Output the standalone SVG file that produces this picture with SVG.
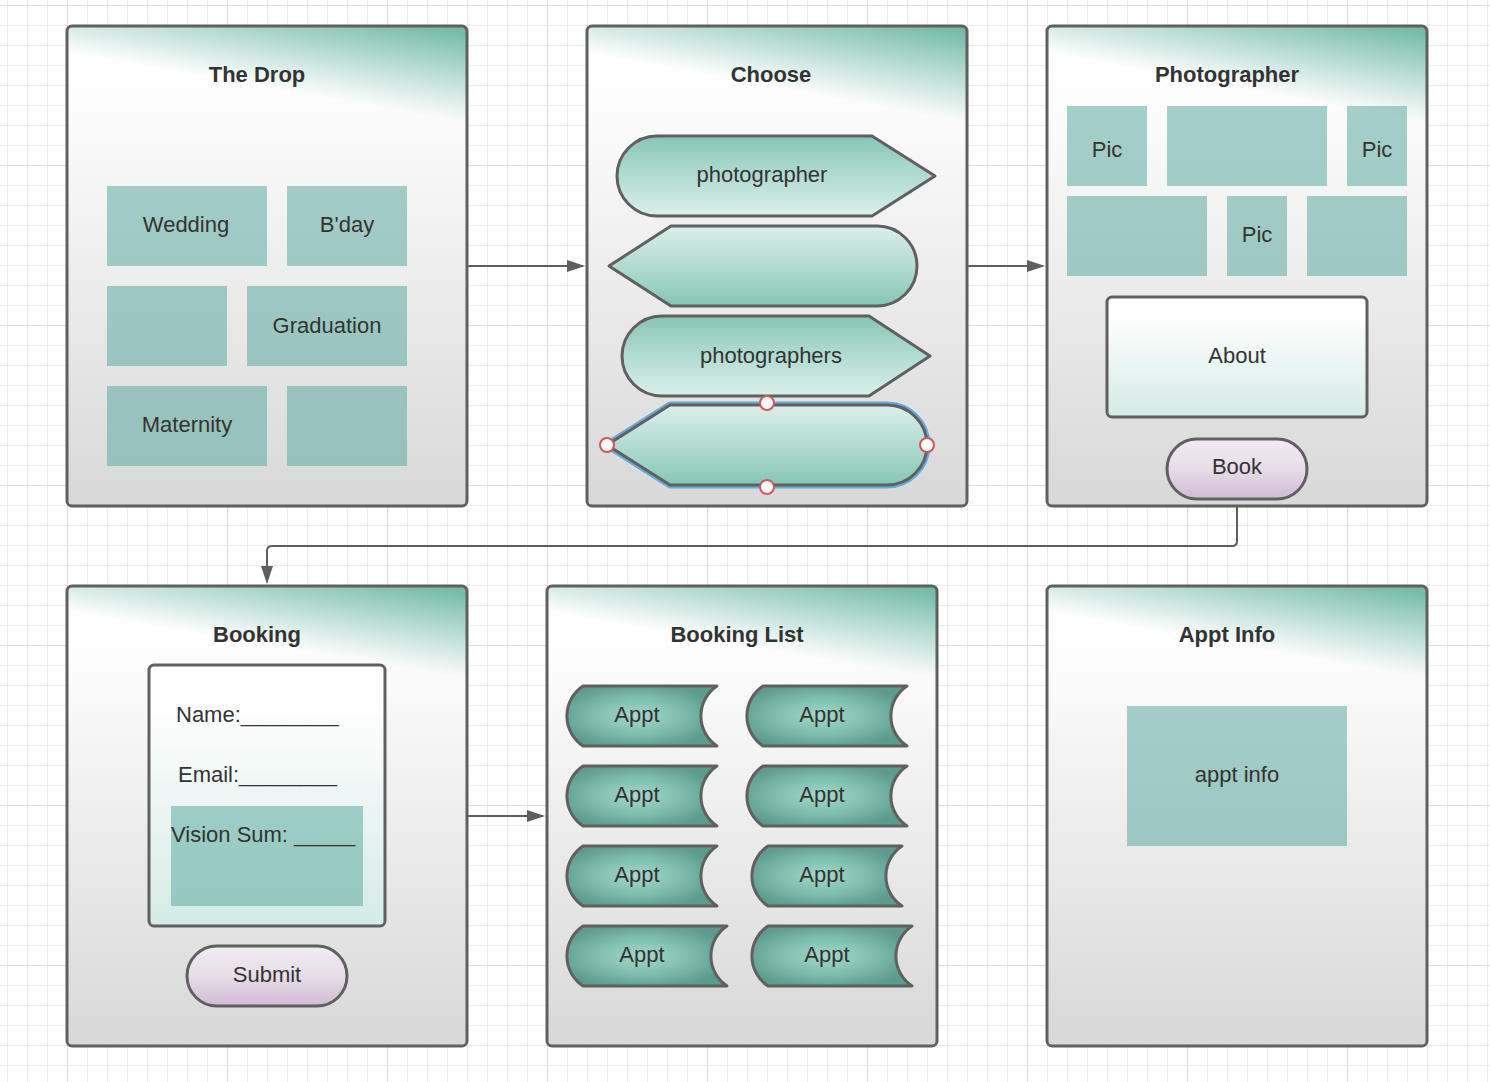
<svg xmlns="http://www.w3.org/2000/svg" width="1490" height="1082" viewBox="0 0 1490 1082">
<defs>
<pattern id="grid" x="67" y="5" width="160" height="160" patternUnits="userSpaceOnUse">
<path d="M20.5 0V160M40.5 0V160M60.5 0V160M80.5 0V160M100.5 0V160M120.5 0V160M140.5 0V160M0 20.5H160M0 40.5H160M0 60.5H160M0 80.5H160M0 100.5H160M0 120.5H160M0 140.5H160" stroke="#ececec" stroke-width="1" fill="none"/>
<path d="M0.5 0V160M0 0.5H160" stroke="#dedede" stroke-width="1" fill="none"/>
</pattern>
<linearGradient id="gBase" x1="0" y1="0" x2="0" y2="1"><stop offset="0" stop-color="#ffffff"/><stop offset="0.1" stop-color="#ffffff"/><stop offset="1" stop-color="#d8d8d8"/></linearGradient>
<linearGradient id="gTeal" x1="-0.008" y1="0.055" x2="0.021" y2="-0.143"><stop offset="0" stop-color="#6cb6a3" stop-opacity="0"/><stop offset="1" stop-color="#6cb6a3" stop-opacity="1"/></linearGradient>
<linearGradient id="gLight" x1="0" y1="0" x2="0" y2="1"><stop offset="0" stop-color="#ffffff"/><stop offset="0.15" stop-color="#ffffff"/><stop offset="1" stop-color="#d4ebe6"/></linearGradient>
<linearGradient id="gBtn" x1="0" y1="0" x2="0" y2="1"><stop offset="0" stop-color="#f1ebf2"/><stop offset="0.45" stop-color="#e9dfea"/><stop offset="1" stop-color="#cfbcd2"/></linearGradient>
<linearGradient id="gArrow" x1="0" y1="0" x2="0" y2="1"><stop offset="0" stop-color="#86c5b5"/><stop offset="0.35" stop-color="#a6d5ca"/><stop offset="1" stop-color="#daefeb"/></linearGradient>
<linearGradient id="gArrowR" x1="0" y1="1" x2="0" y2="0"><stop offset="0" stop-color="#86c5b5"/><stop offset="0.35" stop-color="#a6d5ca"/><stop offset="1" stop-color="#daefeb"/></linearGradient>
<radialGradient id="gAppt" cx="0.47" cy="0.5" r="0.55"><stop offset="0" stop-color="#a4d8cb"/><stop offset="0.55" stop-color="#7dbdad"/><stop offset="1" stop-color="#5c9b8d"/></radialGradient>
<marker id="arr" markerUnits="userSpaceOnUse" markerWidth="18" markerHeight="12" refX="16" refY="6" orient="auto"><path d="M0,0 L18,6 L0,12 Z" fill="#5f5f5f"/></marker>
<style>
.pbase{fill:url(#gBase)}
.pteal{fill:url(#gTeal)}
.pframe{fill:none;stroke:#606060;stroke-width:3}
.tile{fill:#5daba0;fill-opacity:.55}
.light{fill:url(#gLight);stroke:#606060;stroke-width:3}
.btn{fill:url(#gBtn);stroke:#606060;stroke-width:3}
.arrowshape{fill:url(#gArrow);stroke:#606060;stroke-width:3;stroke-linejoin:round}
.arrowshapeR{fill:url(#gArrowR);stroke:#606060;stroke-width:3;stroke-linejoin:round}
.appt{fill:url(#gAppt);stroke:#606060;stroke-width:3;stroke-linejoin:round}
.sel{fill:none;stroke:#66aadd;stroke-width:7;stroke-linejoin:round}
.handle{fill:#ffffff;stroke:#d4545c;stroke-width:2}
.lbl{font-family:"Liberation Sans",Arial,sans-serif;font-size:22px;fill:#333333;text-anchor:middle}
.ttl{font-weight:bold}
.lft{text-anchor:start}
.conn{fill:none;stroke:#5f5f5f;stroke-width:2}
</style>
</defs>
<rect x="0" y="0" width="1490" height="1082" fill="#ffffff"/>
<rect x="0" y="0" width="1490" height="1082" fill="url(#grid)"/>

<g id="panel-the-drop">
<rect x="67" y="26" width="400" height="480" rx="5" class="pbase"/>
<rect x="67" y="26" width="400" height="480" rx="5" class="pteal"/>
<rect x="67" y="26" width="400" height="480" rx="5" class="pframe"/>
<text class="lbl ttl" x="257" y="82">The Drop</text>
<g id="tile-wedding"><rect x="107" y="186" width="160" height="80" class="tile"/><text class="lbl" x="186" y="232">Wedding</text></g>
<g id="tile-bday"><rect x="287" y="186" width="120" height="80" class="tile"/><text class="lbl" x="347" y="232">B'day</text></g>
<g id="tile-blank-1"><rect x="107" y="286" width="120" height="80" class="tile"/></g>
<g id="tile-graduation"><rect x="247" y="286" width="160" height="80" class="tile"/><text class="lbl" x="327" y="333">Graduation</text></g>
<g id="tile-maternity"><rect x="107" y="386" width="160" height="80" class="tile"/><text class="lbl" x="187" y="432">Maternity</text></g>
<g id="tile-blank-2"><rect x="287" y="386" width="120" height="80" class="tile"/></g>
</g>

<g id="panel-choose">
<rect x="587" y="26" width="380" height="480" rx="5" class="pbase"/>
<rect x="587" y="26" width="380" height="480" rx="5" class="pteal"/>
<rect x="587" y="26" width="380" height="480" rx="5" class="pframe"/>
<text class="lbl ttl" x="771" y="82">Choose</text>
<g id="choice-photographer"><path class="arrowshape" d="M657,136 H872 L935,176 L872,216 H657 A40,40 0 0,1 657,136 Z"/><text class="lbl" x="762" y="182">photographer</text></g>
<g id="choice-2"><path class="arrowshapeR" d="M609,266 L671,226 H877 A40,40 0 0,1 877,306 H671 Z"/></g>
<g id="choice-photographers"><path class="arrowshape" d="M662,316 H869 L930,356 L869,396 H662 A40,40 0 0,1 662,316 Z"/><text class="lbl" x="771" y="363">photographers</text></g>
<g id="choice-4">
<path class="sel" d="M607,445 L670,405 H887 A40,40 0 0,1 887,485 H670 Z"/>
<path class="arrowshapeR" d="M607,445 L670,405 H887 A40,40 0 0,1 887,485 H670 Z"/>
<circle class="handle" cx="767" cy="403" r="7"/>
<circle class="handle" cx="767" cy="487" r="7"/>
<circle class="handle" cx="607" cy="445" r="7"/>
<circle class="handle" cx="927" cy="445" r="7"/>
</g>
</g>

<g id="panel-photographer">
<rect x="1047" y="26" width="380" height="480" rx="5" class="pbase"/>
<rect x="1047" y="26" width="380" height="480" rx="5" class="pteal"/>
<rect x="1047" y="26" width="380" height="480" rx="5" class="pframe"/>
<text class="lbl ttl" x="1227" y="82">Photographer</text>
<g id="pic-1"><rect x="1067" y="106" width="80" height="80" class="tile"/><text class="lbl" x="1107" y="157">Pic</text></g>
<g id="pic-2"><rect x="1167" y="106" width="160" height="80" class="tile"/></g>
<g id="pic-3"><rect x="1347" y="106" width="60" height="80" class="tile"/><text class="lbl" x="1377" y="157">Pic</text></g>
<g id="pic-4"><rect x="1067" y="196" width="140" height="80" class="tile"/></g>
<g id="pic-5"><rect x="1227" y="196" width="60" height="80" class="tile"/><text class="lbl" x="1257" y="242">Pic</text></g>
<g id="pic-6"><rect x="1307" y="196" width="100" height="80" class="tile"/></g>
<g id="about"><rect x="1107" y="297" width="260" height="120" rx="5" class="light"/><text class="lbl" x="1237" y="363">About</text></g>
<g id="book"><rect x="1167" y="439" width="140" height="60" rx="30" class="btn"/><text class="lbl" x="1237" y="474">Book</text></g>
</g>

<g id="panel-booking">
<rect x="67" y="586" width="400" height="460" rx="5" class="pbase"/>
<rect x="67" y="586" width="400" height="460" rx="5" class="pteal"/>
<rect x="67" y="586" width="400" height="460" rx="5" class="pframe"/>
<text class="lbl ttl" x="257" y="642">Booking</text>
<g id="booking-form">
<rect x="149" y="665" width="236" height="261" rx="5" class="light"/>
<text class="lbl lft" x="176" y="722">Name:________</text>
<text class="lbl lft" x="178" y="782">Email:________</text>
<rect x="171" y="806" width="192" height="100" class="tile"/>
<text class="lbl lft" x="171" y="842">Vision Sum: _____</text>
</g>
<g id="submit"><rect x="187" y="946" width="160" height="60" rx="30" class="btn"/><text class="lbl" x="267" y="982">Submit</text></g>
</g>

<g id="panel-booking-list">
<rect x="547" y="586" width="390" height="460" rx="5" class="pbase"/>
<rect x="547" y="586" width="390" height="460" rx="5" class="pteal"/>
<rect x="547" y="586" width="390" height="460" rx="5" class="pframe"/>
<text class="lbl ttl" x="737" y="642">Booking List</text>
<g id="appt-1"><path class="appt" d="M583,686 H717 A36,36 0 0,0 717,746 H583 A36,36 0 0,1 583,686 Z"/><text class="lbl" x="637" y="722">Appt</text></g>
<g id="appt-2"><path class="appt" d="M763,686 H907 A36,36 0 0,0 907,746 H763 A36,36 0 0,1 763,686 Z"/><text class="lbl" x="822" y="722">Appt</text></g>
<g id="appt-3"><path class="appt" d="M583,766 H717 A36,36 0 0,0 717,826 H583 A36,36 0 0,1 583,766 Z"/><text class="lbl" x="637" y="802">Appt</text></g>
<g id="appt-4"><path class="appt" d="M763,766 H907 A36,36 0 0,0 907,826 H763 A36,36 0 0,1 763,766 Z"/><text class="lbl" x="822" y="802">Appt</text></g>
<g id="appt-5"><path class="appt" d="M583,846 H717 A36,36 0 0,0 717,906 H583 A36,36 0 0,1 583,846 Z"/><text class="lbl" x="637" y="882">Appt</text></g>
<g id="appt-6"><path class="appt" d="M768,846 H902 A36,36 0 0,0 902,906 H768 A36,36 0 0,1 768,846 Z"/><text class="lbl" x="822" y="882">Appt</text></g>
<g id="appt-7"><path class="appt" d="M583,926 H727 A36,36 0 0,0 727,986 H583 A36,36 0 0,1 583,926 Z"/><text class="lbl" x="642" y="962">Appt</text></g>
<g id="appt-8"><path class="appt" d="M768,926 H912 A36,36 0 0,0 912,986 H768 A36,36 0 0,1 768,926 Z"/><text class="lbl" x="827" y="962">Appt</text></g>
</g>

<g id="panel-appt-info">
<rect x="1047" y="586" width="380" height="460" rx="5" class="pbase"/>
<rect x="1047" y="586" width="380" height="460" rx="5" class="pteal"/>
<rect x="1047" y="586" width="380" height="460" rx="5" class="pframe"/>
<text class="lbl ttl" x="1227" y="642">Appt Info</text>
<g id="appt-info-box"><rect x="1127" y="706" width="220" height="140" class="tile"/><text class="lbl" x="1237" y="782">appt info</text></g>
</g>

<g id="connectors">
<path class="conn" d="M468,266 H583" marker-end="url(#arr)"/>
<path class="conn" d="M968,266 H1043" marker-end="url(#arr)"/>
<path class="conn" d="M1237,507 V541 Q1237,546 1232,546 H272 Q267,546 267,551 V582" marker-end="url(#arr)"/>
<path class="conn" d="M468,816 H543" marker-end="url(#arr)"/>
</g>
</svg>
